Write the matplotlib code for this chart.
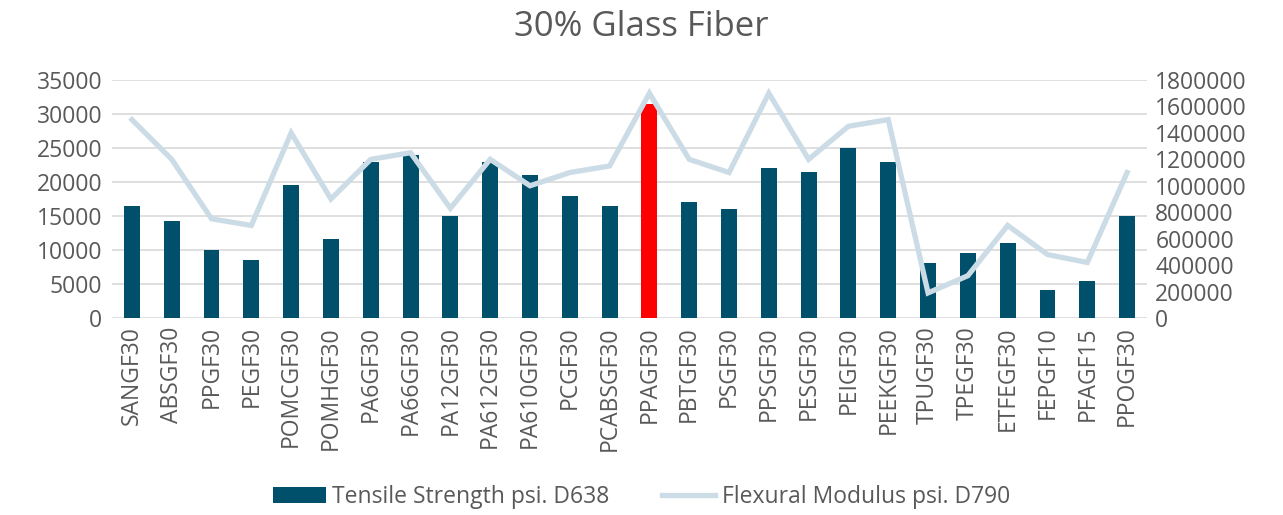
import matplotlib
matplotlib.use('Agg')
import matplotlib.pyplot as plt
import numpy as np

# 数据
materials = ['SANGF30', 'ABSGF30', 'PPGF30', 'PEGF30', 'POMCGF30', 'POMHGF30',
             'PA6GF30', 'PA66GF30', 'PA12GF30', 'PA612GF30', 'PA610GF30', 'PCGF30',
             'PCABSGF30', 'PPAGF30', 'PBTGF30', 'PSGF30', 'PPSGF30', 'PESGF30',
             'PEIGF30', 'PEEKGF30', 'TPUGF30', 'TPEGF30', 'ETFEGF30', 'FEPGF10',
             'PFAGF15', 'PPOGF30']
tensile = [16500, 14200, 10000, 8500, 19500, 11600,
           23000, 24000, 15000, 22900, 21000, 18000,
           16500, 31500, 17000, 16000, 22000, 21500,
           25000, 23000, 8100, 9500, 11000, 4100,
           5500, 15000]
flexural = [1500000, 1200000, 750000, 700000, 1400000, 900000,
            1200000, 1250000, 830000, 1200000, 1000000, 1100000,
            1150000, 1700000, 1200000, 1100000, 1700000, 1200000,
            1450000, 1500000, 190000, 320000, 700000, 480000,
            420000, 1100000]
highlight = 'PPAGF30'

plt.rcParams['font.family'] = ['Open Sans', 'DejaVu Sans']
text_color = '#595959'
bar_color = '#00506B'
line_color = '#CCDCE6'
fs = 16.5

fig = plt.figure(figsize=(12.83, 5.15), dpi=100)
ax1 = fig.add_axes([0.0873, 0.3825, 0.8067, 0.4622])
ax2 = ax1.twinx()

x = np.arange(len(materials))
colors = ['#FF0000' if m == highlight else bar_color for m in materials]
bars = ax1.bar(x, tensile, width=0.4, color=colors, zorder=2,
               label='Tensile Strength psi. D638')
line, = ax2.plot(x, flexural, color=line_color, linewidth=3.8,
                 solid_joinstyle='miter', label='Flexural Modulus psi. D790', zorder=3)

ax1.set_xlim(-0.5, len(materials) - 0.5)
ax1.set_ylim(0, 35000)
ax1.set_yticks(np.arange(0, 35001, 5000))
ax2.set_ylim(0, 1800000)
ax2.set_yticks(np.arange(0, 1800001, 200000))

ax1.yaxis.grid(True, color='#D9D9D9', linewidth=1.2, zorder=0)
ax1.set_axisbelow(True)

ax1.set_xticks(x)
ax1.set_xticklabels(materials, rotation=90)
for ax in (ax1, ax2):
    for s in ax.spines.values():
        s.set_visible(False)
    ax.tick_params(length=0, labelsize=fs, colors=text_color)
ax1.tick_params(axis='y', pad=7)
ax2.tick_params(axis='y', pad=6)
ax1.tick_params(axis='x', pad=6)
ax2.set_yticklabels([str(v) for v in range(0, 1800001, 200000)])

fig.suptitle('30% Glass Fiber', fontsize=25, color=text_color, y=0.98)

fig.legend([bars, line], ['Tensile Strength psi. D638', 'Flexural Modulus psi. D790'],
           loc='center', bbox_to_anchor=(0.5, 0.035), ncol=2, frameon=False,
           fontsize=fs, labelcolor=text_color, handlelength=2.3, handletextpad=0.3,
           columnspacing=2.3)

fig.savefig('out.png', dpi=100)
